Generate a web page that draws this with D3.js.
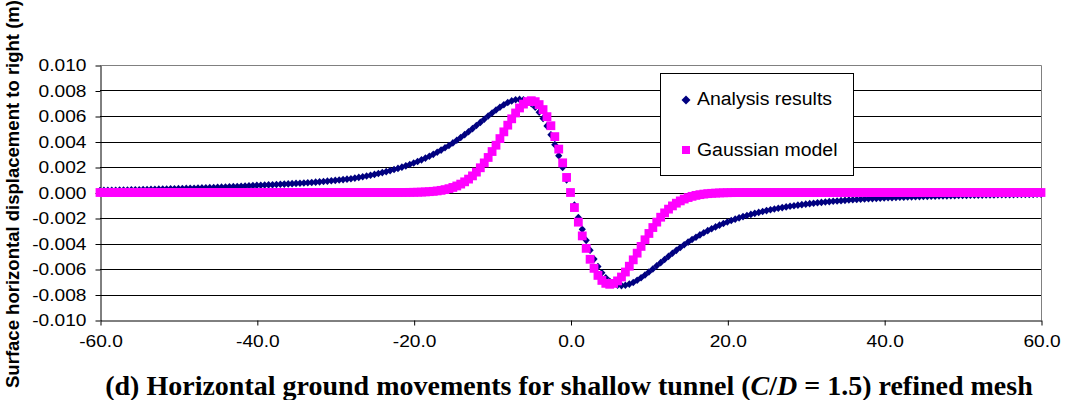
<!DOCTYPE html>
<html>
<head>
<meta charset="utf-8">
<script src="https://cdn.jsdelivr.net/npm/d3@7"></script>
<style>
    body { margin: 0; background: #fff; }
</style>
</head>
<body>
<div id="chart"></div>
<script>
// distance from tunnel centre line (m)
var xValues = [
    -60,-59.5,-59,-58.5,-58,-57.5,-57,-56.5,-56,-55.5,-55,-54.5,-54,-53.5,-53,-52.5,-52,-51.5,-51,-50.5,
    -50,-49.5,-49,-48.5,-48,-47.5,-47,-46.5,-46,-45.5,-45,-44.5,-44,-43.5,-43,-42.5,-42,-41.5,-41,-40.5,
    -40,-39.5,-39,-38.5,-38,-37.5,-37,-36.5,-36,-35.5,-35,-34.5,-34,-33.5,-33,-32.5,-32,-31.5,-31,-30.5,
    -30,-29.5,-29,-28.5,-28,-27.5,-27,-26.5,-26,-25.5,-25,-24.5,-24,-23.5,-23,-22.5,-22,-21.5,-21,-20.5,
    -20,-19.5,-19,-18.5,-18,-17.5,-17,-16.5,-16,-15.5,-15,-14.5,-14,-13.5,-13,-12.5,-12,-11.5,-11,-10.5,
    -10,-9.5,-9,-8.5,-8,-7.5,-7,-6.5,-6,-5.5,-5,-4.5,-4,-3.5,-3,-2.5,-2,-1.5,-1,-0.5,
    0,0.5,1,1.5,2,2.5,3,3.5,4,4.5,5,5.5,6,6.5,7,7.5,8,8.5,9,9.5,
    10,10.5,11,11.5,12,12.5,13,13.5,14,14.5,15,15.5,16,16.5,17,17.5,18,18.5,19,19.5,
    20,20.5,21,21.5,22,22.5,23,23.5,24,24.5,25,25.5,26,26.5,27,27.5,28,28.5,29,29.5,
    30,30.5,31,31.5,32,32.5,33,33.5,34,34.5,35,35.5,36,36.5,37,37.5,38,38.5,39,39.5,
    40,40.5,41,41.5,42,42.5,43,43.5,44,44.5,45,45.5,46,46.5,47,47.5,48,48.5,49,49.5,
    50,50.5,51,51.5,52,52.5,53,53.5,54,54.5,55,55.5,56,56.5,57,57.5,58,58.5,59,59.5,
    60
];

// surface horizontal displacement (m)
var analysisResults = [
    0.000160,0.000164,0.000168,0.000174,0.000181,0.000187,0.000192,0.000200,0.000206,0.000213,0.000221,0.000228,0.000236,0.000244,0.000252,0.000262,0.000270,0.000278,0.000286,0.000294,
    0.000302,0.000311,0.000320,0.000329,0.000339,0.000348,0.000359,0.000371,0.000381,0.000393,0.000406,0.000419,0.000432,0.000445,0.000459,0.000475,0.000490,0.000506,0.000523,0.000541,
    0.000559,0.000572,0.000585,0.000599,0.000613,0.000627,0.000643,0.000657,0.000674,0.000693,0.000712,0.000731,0.000749,0.000768,0.000788,0.000812,0.000837,0.000863,0.000891,0.000920,
    0.000950,0.000981,0.001013,0.001047,0.001083,0.001131,0.001183,0.001237,0.001294,0.001355,0.001419,0.001487,0.001559,0.001635,0.001716,0.001801,0.001892,0.001988,0.002090,0.002198,
    0.002312,0.002434,0.002562,0.002698,0.002842,0.002994,0.003155,0.003325,0.003504,0.003692,0.003889,0.004096,0.004312,0.004536,0.004768,0.005007,0.005251,0.005500,0.005749,0.005997,
    0.006239,0.006472,0.006690,0.006886,0.007053,0.007185,0.007270,0.007301,0.007267,0.007158,0.006965,0.006681,0.006297,0.005811,0.005222,0.004534,0.003753,0.002892,0.001966,0.000994,
    0,-0.000994,-0.001966,-0.002892,-0.003753,-0.004534,-0.005222,-0.005811,-0.006297,-0.006681,-0.006965,-0.007158,-0.007267,-0.007301,-0.007270,-0.007185,-0.007053,-0.006886,-0.006690,-0.006472,
    -0.006239,-0.005997,-0.005749,-0.005500,-0.005251,-0.005007,-0.004768,-0.004536,-0.004312,-0.004096,-0.003889,-0.003692,-0.003504,-0.003325,-0.003155,-0.002994,-0.002842,-0.002698,-0.002562,-0.002434,
    -0.002312,-0.002198,-0.002090,-0.001988,-0.001892,-0.001801,-0.001716,-0.001635,-0.001559,-0.001487,-0.001419,-0.001355,-0.001294,-0.001237,-0.001183,-0.001131,-0.001083,-0.001037,-0.000993,-0.000952,
    -0.000913,-0.000876,-0.000841,-0.000807,-0.000775,-0.000745,-0.000716,-0.000689,-0.000663,-0.000638,-0.000614,-0.000592,-0.000571,-0.000550,-0.000531,-0.000512,-0.000494,-0.000477,-0.000461,-0.000445,
    -0.000430,-0.000416,-0.000402,-0.000389,-0.000377,-0.000365,-0.000353,-0.000342,-0.000332,-0.000322,-0.000312,-0.000302,-0.000293,-0.000285,-0.000276,-0.000268,-0.000261,-0.000253,-0.000246,-0.000239,
    -0.000232,-0.000226,-0.000220,-0.000214,-0.000208,-0.000203,-0.000197,-0.000192,-0.000187,-0.000182,-0.000178,-0.000173,-0.000169,-0.000165,-0.000160,-0.000157,-0.000153,-0.000149,-0.000145,-0.000142,
    -0.000139
];

var gaussianModel = [
    0,0,0,0,0,0,0,0,0,0,0,0,0,0,0,0,0,0,0,0,
    0,0,0,0,0,0,0,0,0,0,0,0,0,0,0,0,0,0,0,0,
    0,0,0,0,0,0,0,0,0,0,0,0,0,0,0,0,0,0,0,0,
    0,0,0,0,0,0,0,0,0,0,0,0,0,0.000001,0.000001,0.000002,0.000003,0.000005,0.000007,0.000011,
    0.000016,0.000023,0.000033,0.000047,0.000065,0.000091,0.000125,0.000169,0.000227,0.000301,0.000396,0.000514,0.000659,0.000837,0.001051,0.001304,0.001599,0.001939,0.002322,0.002748,
    0.003213,0.003709,0.004228,0.004757,0.005281,0.005780,0.006237,0.006629,0.006933,0.007130,0.007200,0.007125,0.006896,0.006503,0.005949,0.005238,0.004383,0.003404,0.002327,0.001181,
    0,-0.001181,-0.002327,-0.003404,-0.004383,-0.005238,-0.005949,-0.006503,-0.006896,-0.007125,-0.007200,-0.007130,-0.006933,-0.006629,-0.006237,-0.005780,-0.005281,-0.004757,-0.004228,-0.003709,
    -0.003213,-0.002748,-0.002322,-0.001939,-0.001599,-0.001304,-0.001051,-0.000837,-0.000659,-0.000514,-0.000396,-0.000301,-0.000227,-0.000169,-0.000125,-0.000091,-0.000065,-0.000047,-0.000033,-0.000023,
    -0.000016,-0.000011,-0.000007,-0.000005,-0.000003,-0.000002,-0.000001,-0.000001,0,0,0,0,0,0,0,0,0,0,0,0,
    0,0,0,0,0,0,0,0,0,0,0,0,0,0,0,0,0,0,0,0,
    0,0,0,0,0,0,0,0,0,0,0,0,0,0,0,0,0,0,0,0,
    0,0,0,0,0,0,0,0,0,0,0,0,0,0,0,0,0,0,0,0,
    0
];

var seriesNames = ["Analysis results", "Gaussian model"];
var xTicks = [-60, -40, -20, 0, 20, 40, 60];
var yTicks = [-0.010, -0.008, -0.006, -0.004, -0.002, 0.000, 0.002, 0.004, 0.006, 0.008, 0.010];

var width  = 1078;
var height = 400;
var plotLeft = 100, plotRight = 1041, plotTop = 65, plotBottom = 320;

var x = d3.scaleLinear().domain([-60, 60]).range([plotLeft, plotRight]);
var y = d3.scaleLinear().domain([-0.01, 0.01]).range([plotBottom, plotTop]);

// widen text a little, the source fonts render wider than Liberation Sans
function stretch(sel, k) {
    sel.each(function() {
        var w = this.getComputedTextLength();
        d3.select(this).attr("textLength", w * k).attr("lengthAdjust", "spacingAndGlyphs");
    });
}

var svg = d3.select("#chart")
    .append("svg")
    .attr("width", width)
    .attr("height", height);

// gridlines
svg.append("g")
    .selectAll("line")
    .data(yTicks.slice(1, -1))
    .enter()
    .append("line")
    .attr("x1", plotLeft)
    .attr("x2", plotRight)
    .attr("y1", function(d) { return Math.round(y(d)) + 0.5; })
    .attr("y2", function(d) { return Math.round(y(d)) + 0.5; })
    .style("stroke", "#000")
    .style("stroke-width", 1);

// plot area border (top + right)
svg.append("path")
    .attr("d", "M" + plotLeft + "," + (plotTop + 0.5) + "H" + (plotRight + 0.5) + "V" + plotBottom)
    .style("fill", "none")
    .style("stroke", "#808080")
    .style("stroke-width", 1);

// axes
svg.append("g")
    .attr("transform", "translate(" + (plotLeft + 0.5) + ",0.5)")
    .call(d3.axisLeft(y).tickValues(yTicks).tickSizeInner(5).tickSizeOuter(0).tickPadding(9)
        .tickFormat(function(d) { return d.toFixed(3); }));

svg.append("g")
    .attr("transform", "translate(0.5," + (plotBottom + 0.5) + ")")
    .call(d3.axisBottom(x).tickValues(xTicks).tickSizeInner(5).tickSizeOuter(0).tickPadding(10)
        .tickFormat(function(d) { return d.toFixed(1); }));

svg.selectAll(".domain").style("stroke", "#000");
svg.selectAll(".tick line").style("stroke", "#000");
svg.selectAll(".tick text")
    .attr("font-family", null)
    .attr("font-size", null)
    .style("font-family", "Arial, 'Liberation Sans', sans-serif")
    .style("font-size", "16.5px")
    .style("fill", "#000");
stretch(svg.selectAll(".tick text"), 1.16);

// series
var analysisPts = xValues.map(function(d, i) { return [d, analysisResults[i]]; });
var gaussPts = xValues.map(function(d, i) { return [d, gaussianModel[i]]; });

svg.append("g")
    .selectAll("path")
    .data(analysisPts)
    .enter()
    .append("path")
    .attr("transform", function(d) { return "translate(" + x(d[0]) + "," + y(d[1]) + ")"; })
    .attr("d", "M0,-3.8L3.6,0L0,3.8L-3.6,0Z")
    .style("fill", "#000080");

svg.append("g")
    .selectAll("rect")
    .data(gaussPts)
    .enter()
    .append("rect")
    .attr("x", function(d) { return x(d[0]) - 4.4; })
    .attr("y", function(d) { return y(d[1]) - 4.4; })
    .attr("width", 8.8)
    .attr("height", 8.8)
    .style("fill", "#ff00ff");

// legend
var legend = svg.append("g");
legend.append("rect")
    .attr("x", 660.5).attr("y", 73.5)
    .attr("width", 193).attr("height", 102)
    .style("fill", "#fff")
    .style("stroke", "#000");
legend.append("path")
    .attr("transform", "translate(686,100)")
    .attr("d", "M0,-4.5L4.5,0L0,4.5L-4.5,0Z")
    .style("fill", "#000080");
legend.append("rect")
    .attr("x", 682).attr("y", 146)
    .attr("width", 8).attr("height", 8)
    .style("fill", "#ff00ff");
var legendText = legend.selectAll("text")
    .data(seriesNames)
    .enter()
    .append("text")
    .attr("x", 697)
    .attr("y", function(d, i) { return 105 + i * 51; })
    .style("font-family", "Arial, 'Liberation Sans', sans-serif")
    .style("font-size", "18px")
    .text(function(d) { return d; });
stretch(legendText, 1.08);

// y axis title
svg.append("text")
    .attr("transform", "translate(19,194) rotate(-90)")
    .attr("text-anchor", "middle")
    .style("font-family", "Arial, 'Liberation Sans', sans-serif")
    .style("font-weight", "bold")
    .style("font-size", "18px")
    .attr("textLength", 388)
    .attr("lengthAdjust", "spacingAndGlyphs")
    .text("Surface horizontal displacement to right (m)");

// caption
var title = svg.append("text")
    .attr("x", 569)
    .attr("y", 395)
    .attr("text-anchor", "middle")
    .style("font-family", "'Times New Roman', 'Liberation Serif', serif")
    .style("font-weight", "bold")
    .style("font-size", "28px");
title.append("tspan").text("(d) Horizontal ground movements for shallow tunnel (");
title.append("tspan").style("font-style", "italic").text("C");
title.append("tspan").text("/");
title.append("tspan").style("font-style", "italic").text("D");
title.append("tspan").text(" = 1.5) refined mesh");
</script>
</body>
</html>
